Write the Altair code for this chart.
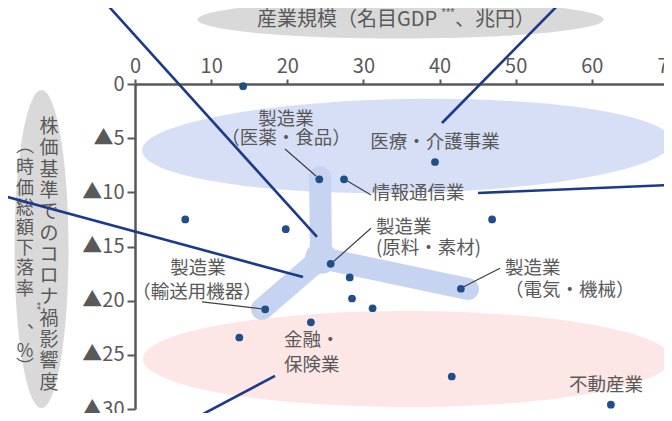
import altair as alt
import pandas as pd

FONT = "Noto Sans CJK JP"
TEXT_GRAY = "#595959"
POINT_BLUE = "#1f4e89"
NAVY = "#1c3a8c"

# ---- data (x: nominal GDP, trillion yen; y: market-cap drop, %) ----
gdp = [14.2, 39.4, 24.2, 27.45, 6.6, 19.8, 46.9, 25.7, 28.2, 28.5, 31.2, 42.8, 17.1, 23.1, 13.7, 41.6, 62.5]
drop = [0.2, 7.2, 8.8, 8.8, 12.5, 13.4, 12.5, 16.6, 17.85, 19.8, 20.7, 18.9, 20.8, 22.0, 23.4, 27.0, 29.6]

x_ticks = [0, 10, 20, 30, 40, 50, 60, 70]
y_ticks = [0, 5, 10, 15, 20, 25, 30]

# labels (text, x, y, align)
label_text = ["製造業", "（医薬・食品）", "医療・介護事業", "情報通信業", "製造業", "(原料・素材)",
              "製造業", "（電気・機械）", "製造業", "（輸送用機器）", "金融・", "保険業", "不動産業"]
label_x = [19.83, 19.83, 39.40, 31.13, 31.65, 31.65, 48.59, 48.59, 8.27, 8.14, 19.57, 19.57, 61.86]
label_y = [3.23, 4.98, 5.35, 10.06, 13.20, 15.14, 16.99, 19.02, 16.99, 19.20, 23.63, 25.94, 27.79]
label_align = ["center", "center", "center", "left", "left", "left",
               "left", "left", "center", "center", "left", "left", "center"]

# leader lines (x1, y1, x2, y2)
leaders = [(19.70, 6.00, 23.77, 8.49), (27.45, 8.77, 31.00, 10.25), (25.70, 16.62, 30.99, 13.32),
           (42.78, 18.86, 47.94, 17.00), (8.80, 20.12, 16.81, 20.77)]

# navy annotation lines
navy_lines = [(-4.20, -7.75, 23.90, 14.12), (-17.73, 10.25, 22.06, 17.82), (40.32, 3.60, 56.21, -7.75),
              (45.05, 10.06, 71.5, 9.28), (18.39, 26.95, 1.97, 33.05), (63.57, 30.74, 66.3, 32.9)]

# Y shaped highlight: junction and three arm ends
y_junction = (24.43, 16.06)
y_arms = [(24.30, 8.58), (16.68, 20.77), (43.73, 18.92)]

# background ellipses: cx, cy (data), rx px, ry px, angle, colour
ellipses = [(34.87, -5.95, 203, 19, 0, "#d9d9d9"),
            (-12.28, 15.23, 27, 159, 0, "#d9d9d9"),
            (35.72, 5.72, 265, 47, 359, "#d7dff6"),
            (35.72, 25.38, 264, 48, 0, "#fde6e6")]

# axis titles
x_title_parts = [("産業規模（名目GDP", 16.02, -5.91, 20, "left", FONT),
                 ("***", 41.11, -6.55, 11, "center", "Liberation Sans"),
                 ("、兆円）", 42.03, -5.91, 20, "left", FONT)]
y_title_right = list("株価基準でのコロナ禍影響度")
y_title_left = ["︵", "時", "価", "総", "額", "下", "落", "率", "︑", "%", "︶"]

SX = 533 / 70
SY = 325 / 30


def px2x(px):
    return (px - 135) / SX


def py2y(py):
    return (py - 84) / SY


X_ENC = alt.X("x:Q", scale=alt.Scale(domain=[0, 70], range=[0, 533], nice=False, zero=False),
              axis=alt.Axis(orient="top", values=x_ticks, title=None, grid=False,
                            domainColor=TEXT_GRAY, domainWidth=2.5, tickColor=TEXT_GRAY,
                            tickWidth=2, tickSize=5, labelFont=FONT, labelFontSize=20,
                            labelColor=TEXT_GRAY, labelPadding=3, labelFlush=False))
Y_ENC = alt.Y("y:Q", scale=alt.Scale(domain=[0, 30], nice=False, zero=False, reverse=True),
              axis=alt.Axis(orient="left", values=y_ticks, title=None, grid=False,
                            domainColor=TEXT_GRAY, domainWidth=2.5, tickColor=TEXT_GRAY,
                            tickWidth=2, tickSize=8, labelFont=FONT, labelFontSize=20,
                            labelColor=TEXT_GRAY, labelPadding=3, labelFlush=False,
                            labelExpr="datum.value == 0 ? '0' : '▲' + datum.value"))


def ellipse_path(rx, ry):
    m = max(rx, ry)
    a, b = rx / m, ry / m
    k = 0.5523
    return (f"M{a},0 C{a},{k*b:.4f} {k*a:.4f},{b} 0,{b} C{-k*a:.4f},{b} {-a},{k*b:.4f} {-a},0 "
            f"C{-a},{-k*b:.4f} {-k*a:.4f},{-b} 0,{-b} C{k*a:.4f},{-b} {a},{-k*b:.4f} {a},0 Z")


ell_df = pd.DataFrame([{"x": cx, "y": cy, "path": ellipse_path(rx, ry), "size": (2 * max(rx, ry)) ** 2,
                        "angle": ang, "color": col} for cx, cy, rx, ry, ang, col in ellipses])
ell_layer = alt.Chart(ell_df).mark_point(filled=True, opacity=1, strokeWidth=0).encode(
    x=X_ENC, y=Y_ENC, shape=alt.Shape("path:N", scale=None), size=alt.Size("size:Q", scale=None),
    angle=alt.Angle("angle:Q", scale=None), color=alt.Color("color:N", scale=None))

# Y shape
yrows = []
for i, (ax, ay) in enumerate(y_arms):
    yrows.append({"seg": i, "o": 0, "x": y_junction[0], "y": y_junction[1]})
    yrows.append({"seg": i, "o": 1, "x": ax, "y": ay})
yshape = alt.Chart(pd.DataFrame(yrows)).mark_line(color="#c6d4f2", strokeWidth=22, strokeCap="round",
                                                   strokeJoin="round").encode(
    x=X_ENC, y=Y_ENC, detail="seg:N", order="o:Q")
yhub = alt.Chart(pd.DataFrame([{"x": y_junction[0], "y": y_junction[1]}])).mark_circle(
    color="#c6d4f2", opacity=1, size=1000).encode(x=X_ENC, y=Y_ENC)


def seg_df(segs):
    rows = []
    for i, (x1, y1, x2, y2) in enumerate(segs):
        rows.append({"seg": i, "o": 0, "x": x1, "y": y1})
        rows.append({"seg": i, "o": 1, "x": x2, "y": y2})
    return pd.DataFrame(rows)


leader_layer = alt.Chart(seg_df(leaders)).mark_line(color="#404040", strokeWidth=1.2).encode(
    x=X_ENC, y=Y_ENC, detail="seg:N", order="o:Q")
navy_layer = alt.Chart(seg_df(navy_lines)).mark_line(color=NAVY, strokeWidth=2.6).encode(
    x=X_ENC, y=Y_ENC, detail="seg:N", order="o:Q")

pts = alt.Chart(pd.DataFrame({"x": gdp, "y": drop})).mark_circle(
    color=POINT_BLUE, opacity=1, size=60).encode(x=X_ENC, y=Y_ENC)

lab_df = pd.DataFrame({"text": label_text, "x": label_x, "y": label_y, "align": label_align})
lab_layers = [alt.Chart(lab_df[lab_df["align"] == a]).mark_text(
    align=a, baseline="middle", font=FONT, fontSize=18.5, color=TEXT_GRAY).encode(
    x=X_ENC, y=Y_ENC, text="text:N") for a in ["left", "center"]]

title_layers = []
for t, tx, ty, fs, al, fnt in x_title_parts:
    title_layers.append(alt.Chart(pd.DataFrame([{"x": tx, "y": ty, "t": t}])).mark_text(
        align=al, baseline="middle", font=fnt, fontSize=fs, color=TEXT_GRAY).encode(
        x=X_ENC, y=Y_ENC, text="t:N"))

yr_df = pd.DataFrame({"t": y_title_right, "x": [px2x(49)] * len(y_title_right),
                      "y": [py2y(127 + i * 21.3) for i in range(len(y_title_right))]})
yl_y = [147, 168, 189, 209, 229, 249, 269, 290, 334, 352, 368]
yl_df = pd.DataFrame({"t": y_title_left, "x": [px2x(25)] * len(y_title_left),
                      "y": [py2y(v) for v in yl_y]})
ytitle_r = alt.Chart(yr_df).mark_text(align="center", baseline="middle", font=FONT, fontSize=19,
                                       color=TEXT_GRAY).encode(x=X_ENC, y=Y_ENC, text="t:N")
ytitle_l = alt.Chart(yl_df).mark_text(align="center", baseline="middle", font=FONT, fontSize=18,
                                       color=TEXT_GRAY).encode(x=X_ENC, y=Y_ENC, text="t:N")
ystar = alt.Chart(pd.DataFrame([{"x": px2x(36), "y": py2y(306), "t": "**"}])).mark_text(
    align="center", baseline="middle", font="Liberation Sans", fontSize=10, angle=90,
    color=TEXT_GRAY).encode(x=X_ENC, y=Y_ENC, text="t:N")

chart = alt.layer(ell_layer, yshape, yhub, leader_layer, pts, *lab_layers, *title_layers,
                  ytitle_r, ytitle_l, ystar, navy_layer).properties(
    width=529, height=325, autosize=alt.AutoSizeParams(type="none"),
    padding={"left": 127, "top": 76, "right": 0, "bottom": 4}
).configure_view(stroke=None)

chart.save("out.html", embed_options={"renderer": "svg", "actions": False})
